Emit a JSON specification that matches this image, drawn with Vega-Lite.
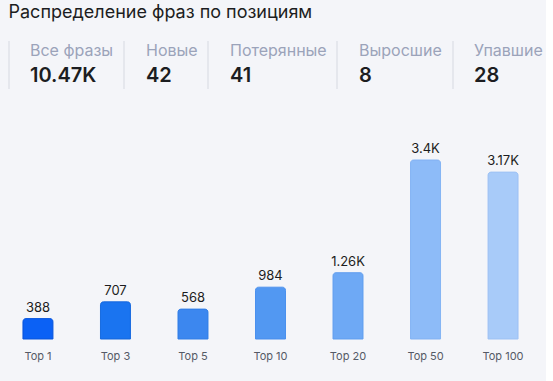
{
  "$schema": "https://vega.github.io/schema/vega-lite/v6.json",
  "background": "#f4f5f9",
  "padding": {"left": 8, "top": 3, "right": 0, "bottom": 43},
  "bounds": "flush",
  "spacing": 119,
  "config": {
    "view": {"stroke": null},
    "font": "Inter",
    "concat": {"spacing": 0}
  },
  "title": {"text": "Распределение фраз по позициям", "anchor": "start", "fontSize": 18, "fontWeight": "normal", "color": "#1c1d21", "font": "Inter", "offset": 19},
  "datasets": {
    "stats": [
      {"key": "all", "label": "Все фразы", "value": 10470},
      {"key": "new", "label": "Новые", "value": 42},
      {"key": "lost", "label": "Потерянные", "value": 41},
      {"key": "up", "label": "Выросшие", "value": 8},
      {"key": "down", "label": "Упавшие", "value": 28}
    ],
    "bars": [
      {"pos": "Top 1", "count": 388},
      {"pos": "Top 3", "count": 707},
      {"pos": "Top 5", "count": 568},
      {"pos": "Top 10", "count": 984},
      {"pos": "Top 20", "count": 1260},
      {"pos": "Top 50", "count": 3400},
      {"pos": "Top 100", "count": 3170}
    ]
  },
  "vconcat": [
    {
      "bounds": "flush",
      "spacing": 0,
      "hconcat": [
        {
          "width": 115, "height": 48,
          "data": {"name": "stats"},
          "transform": [{"filter": "datum.key === 'all'"}],
          "encoding": {"x": {"field": "key", "type": "nominal", "axis": null, "bandPosition": 0, "scale": {"paddingInner": 0, "paddingOuter": 0}}},
          "layer": [
            {"mark": {"type": "rule", "color": "#d6d9e1", "strokeWidth": 1}},
            {"mark": {"type": "text", "align": "left", "baseline": "middle", "dx": 21, "dy": -14, "fontSize": 16, "color": "#9ba3ba"}, "encoding": {"text": {"field": "label"}}},
            {"mark": {"type": "text", "align": "left", "baseline": "middle", "dx": 21, "dy": 11, "fontSize": 20, "fontWeight": 600, "color": "#1c1d21", "text": {"expr": "upper(format(datum.value, '.4~s'))"}}}
          ]
        },
        {
          "width": 84, "height": 48,
          "data": {"name": "stats"},
          "transform": [{"filter": "datum.key === 'new'"}],
          "encoding": {"x": {"field": "key", "type": "nominal", "axis": null, "bandPosition": 0, "scale": {"paddingInner": 0, "paddingOuter": 0}}},
          "layer": [
            {"mark": {"type": "rule", "color": "#d6d9e1", "strokeWidth": 1}},
            {"mark": {"type": "text", "align": "left", "baseline": "middle", "dx": 22, "dy": -14, "fontSize": 16, "color": "#9ba3ba"}, "encoding": {"text": {"field": "label"}}},
            {"mark": {"type": "text", "align": "left", "baseline": "middle", "dx": 22, "dy": 11, "fontSize": 20, "fontWeight": 600, "color": "#1c1d21", "text": {"expr": "upper(format(datum.value, '.4~s'))"}}}
          ]
        },
        {
          "width": 129, "height": 48,
          "data": {"name": "stats"},
          "transform": [{"filter": "datum.key === 'lost'"}],
          "encoding": {"x": {"field": "key", "type": "nominal", "axis": null, "bandPosition": 0, "scale": {"paddingInner": 0, "paddingOuter": 0}}},
          "layer": [
            {"mark": {"type": "rule", "color": "#d6d9e1", "strokeWidth": 1}},
            {"mark": {"type": "text", "align": "left", "baseline": "middle", "dx": 22, "dy": -14, "fontSize": 16, "color": "#9ba3ba"}, "encoding": {"text": {"field": "label"}}},
            {"mark": {"type": "text", "align": "left", "baseline": "middle", "dx": 22, "dy": 11, "fontSize": 20, "fontWeight": 600, "color": "#1c1d21", "text": {"expr": "upper(format(datum.value, '.4~s'))"}}}
          ]
        },
        {
          "width": 116, "height": 48,
          "data": {"name": "stats"},
          "transform": [{"filter": "datum.key === 'up'"}],
          "encoding": {"x": {"field": "key", "type": "nominal", "axis": null, "bandPosition": 0, "scale": {"paddingInner": 0, "paddingOuter": 0}}},
          "layer": [
            {"mark": {"type": "rule", "color": "#d6d9e1", "strokeWidth": 1}},
            {"mark": {"type": "text", "align": "left", "baseline": "middle", "dx": 22, "dy": -14, "fontSize": 16, "color": "#9ba3ba"}, "encoding": {"text": {"field": "label"}}},
            {"mark": {"type": "text", "align": "left", "baseline": "middle", "dx": 22, "dy": 11, "fontSize": 20, "fontWeight": 600, "color": "#1c1d21", "text": {"expr": "upper(format(datum.value, '.4~s'))"}}}
          ]
        },
        {
          "width": 93, "height": 48,
          "data": {"name": "stats"},
          "transform": [{"filter": "datum.key === 'down'"}],
          "encoding": {"x": {"field": "key", "type": "nominal", "axis": null, "bandPosition": 0, "scale": {"paddingInner": 0, "paddingOuter": 0}}},
          "layer": [
            {"mark": {"type": "rule", "color": "#d6d9e1", "strokeWidth": 1}},
            {"mark": {"type": "text", "align": "left", "baseline": "middle", "dx": 21, "dy": -14, "fontSize": 16, "color": "#9ba3ba"}, "encoding": {"text": {"field": "label"}}},
            {"mark": {"type": "text", "align": "left", "baseline": "middle", "dx": 21, "dy": 11, "fontSize": 20, "fontWeight": 600, "color": "#1c1d21", "text": {"expr": "upper(format(datum.value, '.4~s'))"}}}
          ]
        }
      ]
    },
    {
      "width": 523, "height": 179,
      "data": {"name": "bars"},
      "encoding": {
        "x": {"field": "pos", "type": "nominal", "sort": null, "axis": {"title": null, "labelAngle": 0, "domain": false, "ticks": false, "labelPadding": 11, "labelFontSize": 11, "labelColor": "#555a66", "labelFont": "Inter"}, "scale": {"paddingInner": 0.613, "paddingOuter": 0.18}},
        "y": {"field": "count", "type": "quantitative", "axis": null, "scale": {"domain": [0, 3400]}}
      },
      "layer": [
        {
          "mark": {"type": "bar", "cornerRadiusTopLeft": 3, "cornerRadiusTopRight": 3, "strokeWidth": 1},
          "encoding": {
            "color": {"field": "pos", "type": "nominal", "sort": null, "legend": null, "scale": {"range": ["#0b61f5", "#1a74f0", "#3c87ef", "#5298f2", "#6ea9f5", "#8dbbf8", "#a8cbf9"]}},
            "stroke": {"field": "pos", "type": "nominal", "sort": null, "legend": null, "scale": {"range": ["#0a58e0", "#176ae0", "#3480e8", "#4a90ee", "#65a1f0", "#85b4f4", "#a0c4f5"]}}
          }
        },
        {
          "mark": {"type": "text", "baseline": "bottom", "dy": -4, "fontSize": 13, "color": "#1c1d21", "text": {"expr": "upper(format(datum.count, '.3~s'))"}}
        }
      ]
    }
  ]
}
